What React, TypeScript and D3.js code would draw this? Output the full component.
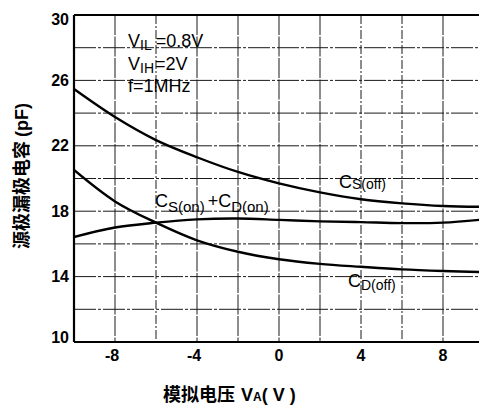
import React from "react";
import * as d3 from "d3";

// Analog voltage VA (V) sample points
const voltages = [-10, -8, -6, -4, -2, 0, 2, 4, 6, 8, 10];
// Capacitance curves (pF)
const csOff = [25.47, 23.76, 22.35, 21.3, 20.4, 19.7, 19.15, 18.73, 18.48, 18.32, 18.27];
const csOnCdOn = [16.42, 17.0, 17.3, 17.5, 17.55, 17.47, 17.38, 17.33, 17.27, 17.3, 17.5];
const cdOff = [20.52, 18.6, 17.3, 16.22, 15.52, 15.06, 14.78, 14.6, 14.44, 14.34, 14.27];

const xTicks = [-8, -4, 0, 4, 8];
const yTicks = [10, 14, 18, 22, 26, 30];
const xGrid = [-8, -6, -4, -2, 0, 2, 4, 6, 8];
const yGrid = [12, 14, 16, 18, 20, 22, 24, 26, 28];
const dashedX = new Set([-6, 4, 6]);

const W = 479;
const H = 408;
const LATIN = "'Liberation Sans', Arial, Helvetica, sans-serif";
const CJK = "'Noto Sans CJK SC', 'Liberation Sans', sans-serif";

export default function App() {
  const x = d3.scaleLinear().domain([-10, 10]).range([74, 484]);
  const y = d3.scaleLinear().domain([10, 30]).range([342, 15]);

  const line = d3
    .line<number>()
    .x((_, i) => x(voltages[i]))
    .y((v) => y(v))
    .curve(d3.curveCatmullRom.alpha(0.5));

  const left = x(-10);
  const right = W;
  const top = y(30);
  const bottom = y(10);

  const yLabelShift = (v: number) => (v === 30 ? 4 : v === 10 ? -5 : 0);

  return (
    <div style={{ position: "fixed", left: 0, top: 0 }}>
      <svg width={W} height={H} style={{ display: "block", background: "#fff" }}>
        <defs>
          <clipPath id="plot">
            <rect x={left} y={top - 2} width={right - left} height={bottom - top + 4} />
          </clipPath>
        </defs>

        {/* grid */}
        <g stroke="#1a1a1a" strokeWidth={1}>
          {xGrid.map((v) => (
            <line
              key={"gx" + v}
              x1={x(v)}
              x2={x(v)}
              y1={top}
              y2={bottom}
              strokeDasharray={dashedX.has(v) ? "9 2 2 2" : "20 1.5"}
            />
          ))}
          {yGrid.map((v) => (
            <line
              key={"gy" + v}
              x1={left}
              x2={right}
              y1={y(v)}
              y2={y(v)}
              strokeDasharray="22 2 3 2"
            />
          ))}
        </g>

        {/* frame */}
        <g stroke="#000" strokeWidth={2.2} fill="none">
          <line x1={left} x2={right} y1={top} y2={top} />
          <line x1={left} x2={right} y1={bottom} y2={bottom} />
          <line x1={left} x2={left} y1={top} y2={bottom} />
        </g>

        {/* curves */}
        <g clipPath="url(#plot)" fill="none" stroke="#000" strokeWidth={2.4}>
          <path d={line(csOff) || ""} />
          <path d={line(csOnCdOn) || ""} />
          <path d={line(cdOff) || ""} />
        </g>

        {/* tick labels */}
        <g fontFamily={LATIN} fontWeight="bold" fontSize={16} fill="#000">
          {yTicks.map((v) => (
            <text
              key={"ty" + v}
              x={69}
              y={y(v) + yLabelShift(v)}
              textAnchor="end"
              dominantBaseline="central"
            >
              {v}
            </text>
          ))}
          {xTicks.map((v) => (
            <text key={"tx" + v} x={x(v) - (v < 0 ? 3 : 0)} y={361} textAnchor="middle">
              {v}
            </text>
          ))}
        </g>

        {/* conditions */}
        <g fontFamily={LATIN} fontSize={18} fill="#000">
          <text x={128} y={47}>
            V<tspan fontSize={14} dy={2.5}>IL</tspan>
            <tspan dx={4} dy={-2.5}>=0.8V</tspan>
          </text>
          <text x={128} y={70}>
            V<tspan fontSize={14} dy={2.5}>IH</tspan>
            <tspan dx={1} dy={-2.5}>=2V</tspan>
          </text>
          <text x={128} y={92}>f=1MHz</text>
        </g>

        {/* curve labels */}
        <g fontFamily={LATIN} fill="#000">
          <text x={339} y={188} fontSize={18}>
            C<tspan fontSize={14} dy={1}>S(off)</tspan>
          </text>
          <text x={155} y={207} fontSize={18}>
            C<tspan fontSize={15} dy={5}>S(on)</tspan>
            <tspan dx={3} dy={-5}>+C</tspan>
            <tspan fontSize={15} dy={5}>D(on)</tspan>
          </text>
          <text x={348} y={287} fontSize={18}>
            C<tspan fontSize={14} dy={3}>D(off)</tspan>
          </text>
        </g>

        {/* axis titles */}
        <text x={163} y={401} fontFamily={CJK} fontWeight="bold" fontSize={18} fill="#000">
          模拟电压
          <tspan fontFamily={LATIN} dx={6}>V</tspan>
          <tspan fontFamily={LATIN} fontSize={12}>A</tspan>
          <tspan fontFamily={LATIN}>( V )</tspan>
        </text>
        <text
          transform={`translate(28, 176) rotate(-90)`}
          textAnchor="middle"
          fontFamily={CJK}
          fontWeight="bold"
          fontSize={18}
          fill="#000"
        >
          源极漏极电容 <tspan fontFamily={LATIN}>(pF)</tspan>
        </text>
      </svg>
    </div>
  );
}
